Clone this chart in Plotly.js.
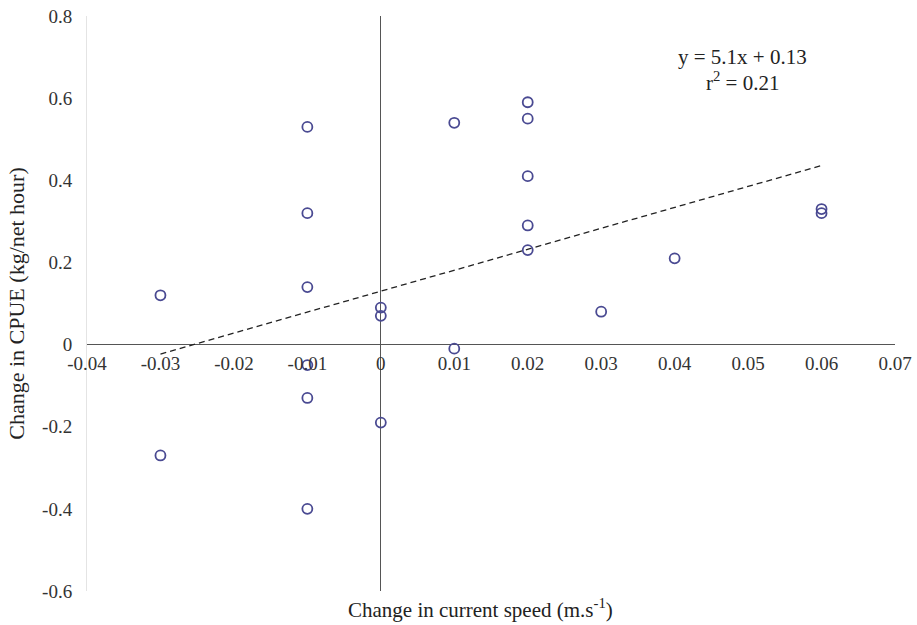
<!DOCTYPE html>
<html>
<head>
<meta charset="utf-8">
<script src="https://cdn.plot.ly/plotly-3.0.1.min.js"></script>
<style>html,body{margin:0;padding:0;background:#fff}#chart{width:917px;height:625px}</style>
</head>
<body>
<div id="chart"></div>
<script>
// Data
var speedChange = [-0.03, -0.03, -0.01, -0.01, -0.01, -0.01, -0.01, -0.01, 0, 0, 0, 0.01, 0.01, 0.02, 0.02, 0.02, 0.02, 0.02, 0.03, 0.04, 0.06, 0.06];
var cpueChange  = [0.12, -0.27, 0.53, 0.32, 0.14, -0.05, -0.13, -0.40, 0.09, 0.07, -0.19, 0.54, -0.01, 0.59, 0.55, 0.41, 0.29, 0.23, 0.08, 0.21, 0.33, 0.32];
var trendSlope = 5.1;
var trendIntercept = 0.13;
var trendX = [-0.03, 0.06];
var xTicks = [-0.04, -0.03, -0.02, -0.01, 0, 0.01, 0.02, 0.03, 0.04, 0.05, 0.06, 0.07];
var xTickText = ['-0.04', '-0.03', '-0.02', '-0.01', '0', '0.01', '0.02', '0.03', '0.04', '0.05', '0.06', '0.07'];
var yTicks = [-0.6, -0.4, -0.2, 0, 0.2, 0.4, 0.6, 0.8];
var yTickText = ['-0.6', '-0.4', '-0.2', '0', '0.2', '0.4', '0.6', '0.8'];
var xRange = [-0.04, 0.07];
var yRange = [-0.6, 0.8];

var trendY = trendX.map(function (x) { return trendSlope * x + trendIntercept; });
var fam = 'Liberation Serif';

var traces = [
  {
    x: trendX, y: trendY, type: 'scatter', mode: 'lines',
    line: {color: '#222', width: 1.3, dash: '6px,4px'},
    hoverinfo: 'skip', showlegend: false
  },
  {
    x: speedChange, y: cpueChange, type: 'scatter', mode: 'markers',
    marker: {symbol: 'circle-open', size: 10, color: '#4a4a92', line: {width: 1.8, color: '#4a4a92'}},
    showlegend: false
  }
];

var xPos = (0 - yRange[0]) / (yRange[1] - yRange[0]);

var layout = {
  width: 917, height: 625,
  margin: {l: 87, r: 22, t: 16, b: 34},
  paper_bgcolor: '#fff', plot_bgcolor: '#fff',
  font: {family: fam, size: 19, color: '#333'},
  xaxis: {
    range: xRange, tickvals: xTicks, ticktext: xTickText,
    showgrid: false, zeroline: true, zerolinecolor: '#555', zerolinewidth: 1.3,
    showline: false, ticks: '', anchor: 'free', position: xPos,
    ticklabelstandoff: 5,
    tickfont: {family: fam, size: 19, color: '#333'},
    fixedrange: true
  },
  yaxis: {
    range: yRange, tickvals: yTicks, ticktext: yTickText,
    showgrid: false, zeroline: true, zerolinecolor: '#555', zerolinewidth: 1.3,
    showline: true, linecolor: '#e4e4e4', linewidth: 1, ticks: '',
    ticklabelstandoff: 10,
    tickfont: {family: fam, size: 19, color: '#333'},
    title: {text: 'Change in CPUE (kg/net hour)', font: {family: fam, size: 22, color: '#222'}, standoff: 11},
    fixedrange: true
  },
  annotations: [
    {xref: 'paper', yref: 'paper', x: 0.811, y: 0.929, xanchor: 'center', yanchor: 'middle',
     text: 'y = 5.1x + 0.13', showarrow: false, font: {family: fam, size: 21, color: '#222'}},
    {xref: 'paper', yref: 'paper', x: 0.811, y: 0.886, xanchor: 'center', yanchor: 'middle',
     text: 'r<sup>2</sup> = 0.21', showarrow: false, font: {family: fam, size: 21, color: '#222'}},
    {xref: 'paper', yref: 'paper', x: 0.4876, y: -0.03, xanchor: 'center', yanchor: 'middle',
     text: 'Change in current speed (m.s<sup>-1</sup>)', showarrow: false, font: {family: fam, size: 21, color: '#222'}}
  ]
};

Plotly.newPlot('chart', traces, layout, {displayModeBar: false, staticPlot: true});
</script>
</body>
</html>
